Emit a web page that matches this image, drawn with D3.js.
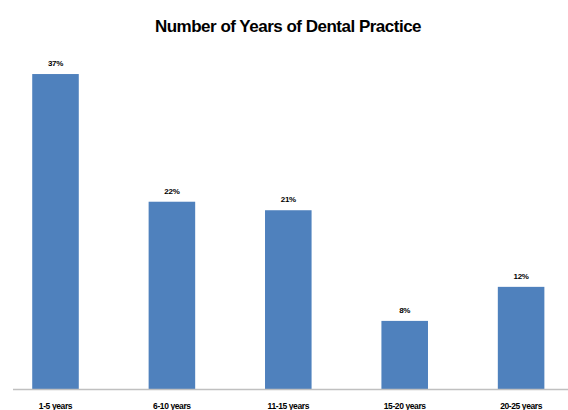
<!DOCTYPE html>
<html>
<head>
<meta charset="utf-8">
<script src="https://cdn.jsdelivr.net/npm/d3@7"></script>
<style>
  body { margin: 0; background: #fff; }
  svg { display: block; }
</style>
</head>
<body>
<div id="chart"></div>
<script>
// data
var categories = ["1-5 years", "6-10 years", "11-15 years", "15-20 years", "20-25 years"];
var values = [37, 22, 21, 8, 12];
var valueLabels = ["37%", "22%", "21%", "8%", "12%"];

var width = 568, height = 410;

var svg = d3.select("#chart").append("svg")
    .attr("width", width)
    .attr("height", height);

// x scale for the bars
var x = d3.scaleBand()
    .domain(categories)
    .range([-2.7, 579.3])
    .paddingInner(0.6)
    .paddingOuter(0.3);

// y scale, baseline at the axis line
var y = d3.scaleLinear()
    .domain([0, 40])
    .range([389, 48.5]);

// title
svg.append("text")
    .attr("x", 288)
    .attr("y", 32)
    .attr("text-anchor", "middle")
    .style("font-family", "'Liberation Sans', Arial, sans-serif")
    .style("font-weight", "bold")
    .style("font-size", "17px")
    .style("letter-spacing", "-0.5px")
    .text("Number of Years of Dental Practice");

var data = categories.map(function (c, i) {
    return { cat: c, value: values[i], label: valueLabels[i] };
});

// bars
svg.selectAll("rect.bar")
    .data(data)
    .enter().append("rect")
    .attr("class", "bar")
    .attr("x", function (d) { return x(d.cat); })
    .attr("y", function (d) { return y(d.value); })
    .attr("width", x.bandwidth())
    .attr("height", function (d) { return y(0) - y(d.value); })
    .attr("fill", "#4f81bd");

// value labels above each bar
svg.selectAll("text.val")
    .data(data)
    .enter().append("text")
    .attr("class", "val")
    .attr("x", function (d) { return x(d.cat) + x.bandwidth() / 2; })
    .attr("y", function (d) { return y(d.value) - 8; })
    .attr("text-anchor", "middle")
    .style("font-family", "'Liberation Sans', Arial, sans-serif")
    .style("font-weight", "bold")
    .style("font-size", "8px")
    .style("letter-spacing", "-0.3px")
    .text(function (d) { return d.label; });

// x axis line
svg.append("line")
    .attr("x1", 13)
    .attr("x2", width)
    .attr("y1", y(0) + 0.5)
    .attr("y2", y(0) + 0.5)
    .attr("stroke", "#c0c0c0")
    .attr("stroke-width", 1.5);

// category labels
svg.selectAll("text.cat")
    .data(categories)
    .enter().append("text")
    .attr("class", "cat")
    .attr("x", function (d) { return x(d) + x.bandwidth() / 2; })
    .attr("y", 409)
    .attr("text-anchor", "middle")
    .style("font-family", "'Liberation Sans', Arial, sans-serif")
    .style("font-weight", "bold")
    .style("font-size", "8.5px")
    .style("letter-spacing", "-0.4px")
    .text(function (d) { return d; });
</script>
</body>
</html>
